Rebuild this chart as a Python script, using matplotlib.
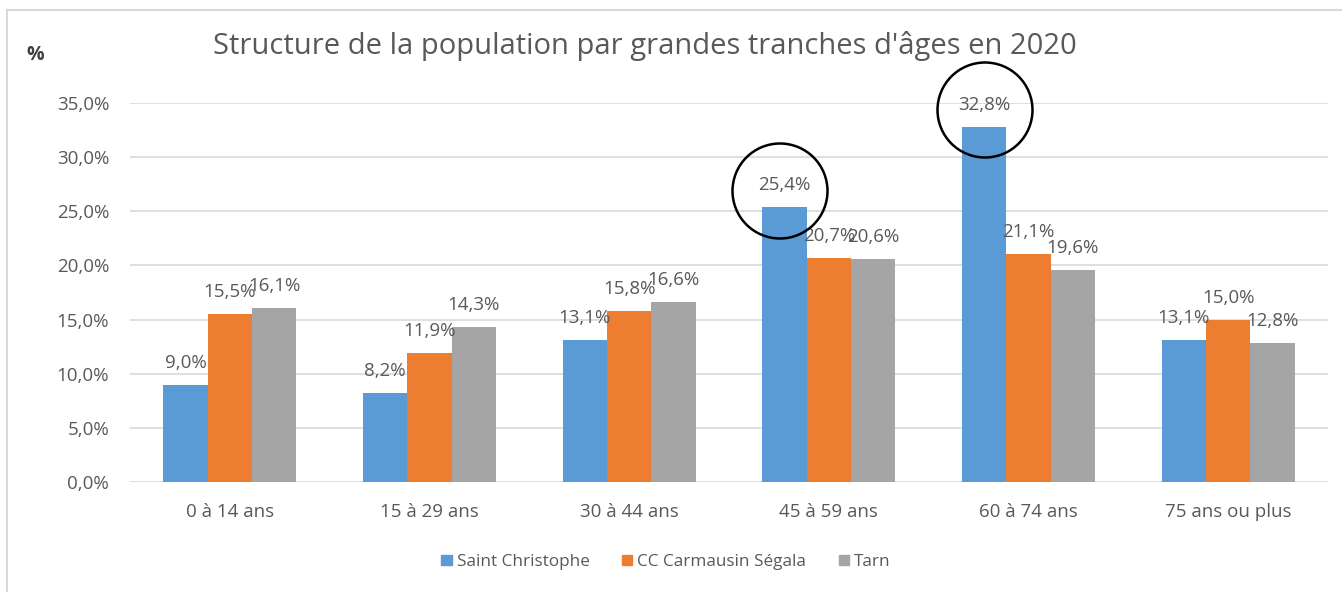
import matplotlib
matplotlib.use("Agg")
import matplotlib.pyplot as plt
import numpy as np
from matplotlib.patches import Ellipse
from matplotlib.lines import Line2D

categories = ["0 à 14 ans", "15 à 29 ans", "30 à 44 ans", "45 à 59 ans", "60 à 74 ans", "75 ans ou plus"]
series_names = ["Saint Christophe", "CC Carmausin Ségala", "Tarn"]
saint_christophe = [9.0, 8.2, 13.1, 25.4, 32.8, 13.1]
cc_carmausin = [15.5, 11.9, 15.8, 20.7, 21.1, 15.0]
tarn = [16.1, 14.3, 16.6, 20.6, 19.6, 12.8]
yticks = [0, 5, 10, 15, 20, 25, 30, 35]

colors = ["#5B9BD5", "#ED7D31", "#A5A5A5"]
txt_col = "#595959"
plt.rcParams['font.family'] = ['Open Sans', 'DejaVu Sans']

W, H = 1342, 592
fig = plt.figure(figsize=(W/100, H/100), dpi=100)
ax = fig.add_axes([130/W, 1-482/H, 1198/W, (482-103)/H])

x = np.arange(len(categories))
bw = 0.2225
all_series = [saint_christophe, cc_carmausin, tarn]
for i, (vals, name, c) in enumerate(zip(all_series, series_names, colors)):
    pos = x + (i-1)*bw
    ax.bar(pos, vals, width=bw, color=c, label=name, zorder=3)
    for px, v in zip(pos, vals):
        ax.annotate(f"{v:.1f}%".replace(".", ","), (px, v), xytext=(0, 22),
                    textcoords="offset pixels", ha="center", va="center",
                    fontsize=13.5, color=txt_col, zorder=4)

ax.set_xlim(-0.5, len(categories)-0.5)
ax.set_ylim(0, 35)
ax.set_yticks(yticks)
ax.set_yticklabels([f"{t:.1f}%".replace(".", ",") for t in yticks])
ax.set_xticks(x)
ax.set_xticklabels(categories)
ax.tick_params(axis='both', length=0, labelsize=13.5, labelcolor=txt_col)
ax.tick_params(axis='y', pad=15)
ax.tick_params(axis='x', pad=15)
ax.grid(axis='y', color="#D9D9D9", lw=1.2, zorder=0)
for s in ax.spines.values():
    s.set_visible(False)

fig.text(645/W, 1-46/H, "Structure de la population par grandes tranches d'âges en 2020",
         ha="center", va="center", fontsize=21, color=txt_col)
fig.text(35/W, 1-55/H, "%", ha="center", va="center", fontsize=14, color="#404040", fontweight="bold")

handles = [plt.Rectangle((0, 0), 1, 1, color=c) for c in colors]
fig.legend(handles, series_names, loc="center", bbox_to_anchor=(666/W, 1-562/H), ncol=3,
           frameon=False, fontsize=12.3, labelcolor=txt_col, handlelength=0.6, handleheight=0.6,
           handletextpad=0.3, columnspacing=1.9)

# annotation circles
for cx, cy in [(780, 191), (985, 110)]:
    fig.add_artist(Ellipse((cx/W, 1-cy/H), 95/W, 95/H, transform=fig.transFigure,
                           fill=False, ec="black", lw=1.8, zorder=10))

# frame border
fig.add_artist(Line2D([7/W, 7/W], [0, 1-10/H], transform=fig.transFigure, color="#D9D9D9", lw=1.5))
fig.add_artist(Line2D([7/W, 1], [1-10/H, 1-10/H], transform=fig.transFigure, color="#D9D9D9", lw=1.5))

fig.savefig("out.png", dpi=100)
